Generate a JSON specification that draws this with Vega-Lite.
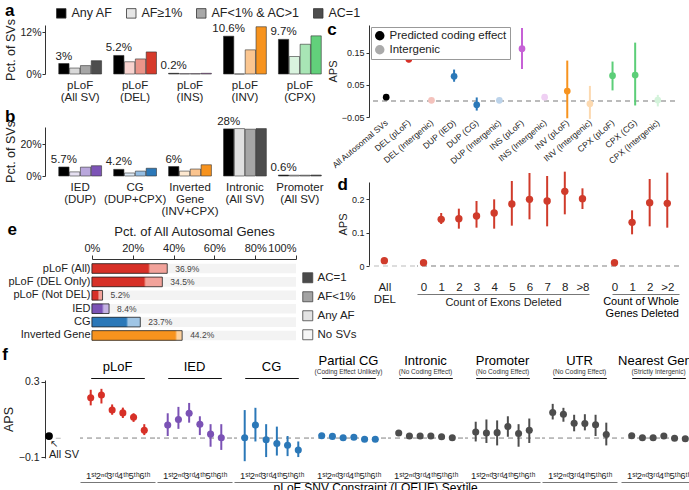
{
"$schema": "https://vega.github.io/schema/vega-lite/v6.json",
"background": "white",
"padding": {"left": 2, "top": 2, "right": 0, "bottom": 0},
"config": {
  "font": "Liberation Sans",
  "view": {"stroke": null},
  "axis": {"domainColor": "#333", "tickColor": "#333", "labelColor": "#222", "titleColor": "#222", "titleFontWeight": "normal", "grid": false, "tickSize": 3, "labelFontSize": 10.5, "titleFontSize": 12.5, "labelOverlap": false},
  "axisY": {"labelOverlap": false},
  "legend": {"labelColor": "#222"},
  "title": {"color": "#000"},
  "concat": {"spacing": 0}
},
"resolve": {"scale": {"color": "independent", "fill": "independent", "xOffset": "independent", "x": "independent", "y": "independent"}, "legend": {"color": "independent", "fill": "independent"}},
"concat": [
 {"hconcat": [
  {"concat": [
   {
    "width": 290, "height": 49,
    "title": {"text": "a", "anchor": "start", "frame": "bounds", "fontSize": 17, "fontWeight": "bold", "offset": -13},
    "data": {"values": [
     {"g": "pLoF|(All SV)", "t": "Any AF", "v": 3.0, "k": "all0", "lab": "3%"},
     {"g": "pLoF|(All SV)", "t": "AF≥1%", "v": 1.7, "k": "all1"},
     {"g": "pLoF|(All SV)", "t": "AF<1% & AC>1", "v": 2.4, "k": "all2"},
     {"g": "pLoF|(All SV)", "t": "AC=1", "v": 3.8, "k": "all3"},
     {"g": "pLoF|(DEL)", "t": "Any AF", "v": 5.3, "k": "del0", "lab": "5.2%"},
     {"g": "pLoF|(DEL)", "t": "AF≥1%", "v": 3.5, "k": "del1"},
     {"g": "pLoF|(DEL)", "t": "AF<1% & AC>1", "v": 4.3, "k": "del2"},
     {"g": "pLoF|(DEL)", "t": "AC=1", "v": 6.3, "k": "del3"},
     {"g": "pLoF|(INS)", "t": "Any AF", "v": 0.2, "k": "ins0", "lab": "0.2%"},
     {"g": "pLoF|(INS)", "t": "AF≥1%", "v": 0.1, "k": "ins1"},
     {"g": "pLoF|(INS)", "t": "AF<1% & AC>1", "v": 0.1, "k": "ins2"},
     {"g": "pLoF|(INS)", "t": "AC=1", "v": 0.2, "k": "ins3"},
     {"g": "pLoF|(INV)", "t": "Any AF", "v": 10.8, "k": "inv0", "lab": "10.6%"},
     {"g": "pLoF|(INV)", "t": "AF≥1%", "v": 0.0, "k": "inv1"},
     {"g": "pLoF|(INV)", "t": "AF<1% & AC>1", "v": 6.9, "k": "inv2"},
     {"g": "pLoF|(INV)", "t": "AC=1", "v": 13.5, "k": "inv3"},
     {"g": "pLoF|(CPX)", "t": "Any AF", "v": 9.9, "k": "cpx0", "lab": "9.7%"},
     {"g": "pLoF|(CPX)", "t": "AF≥1%", "v": 5.0, "k": "cpx1"},
     {"g": "pLoF|(CPX)", "t": "AF<1% & AC>1", "v": 8.5, "k": "cpx2"},
     {"g": "pLoF|(CPX)", "t": "AC=1", "v": 10.9, "k": "cpx3"}
    ]},
    "layer": [
     {"mark": {"type": "bar", "stroke": "#333", "strokeWidth": 0.6},
      "encoding": {
       "x": {"field": "g", "type": "nominal", "sort": null, "scale": {"paddingInner": 0.22, "paddingOuter": 0.25},
             "axis": {"title": null, "labelAngle": 0, "domain": false, "ticks": false, "labelExpr": "split(datum.label, '|')", "labelFontSize": 11.5, "labelLineHeight": 12, "labelPadding": 5}},
       "xOffset": {"field": "t", "type": "nominal", "scale": {"domain": ["Any AF", "AF≥1%", "AF<1% & AC>1", "AC=1"], "paddingInner": 0.05}},
       "y": {"field": "v", "type": "quantitative", "scale": {"domain": [0, 14], "nice": false},
             "axis": {"values": [0, 4, 8, 12], "labelOverlap": false, "labelExpr": "datum.value + '%'", "title": "Pct. of SVs", "titlePadding": 2, "labelPadding": 1}},
       "fill": {"field": "k", "type": "nominal", "legend": null, "scale": {
         "domain": ["all0","all1","all2","all3","del0","del1","del2","del3","ins0","ins1","ins2","ins3","inv0","inv1","inv2","inv3","cpx0","cpx1","cpx2","cpx3"],
         "range": ["#000000","#d9d9d9","#a6a6a6","#4d4d4d","#000000","#f8d3cf","#ea9489","#d63a2b","#000000","#f0d4f4","#d99ee3","#bf5fcf","#000000","#fde3c8","#fbc690","#f7931e","#000000","#d9f3de","#a8e5b5","#62d07b"]}}
      }},
     {"transform": [{"filter": "datum.t == 'Any AF'"}],
      "mark": {"type": "text", "baseline": "bottom", "dy": -2, "fontSize": 11.5, "color": "#222"},
      "encoding": {
       "x": {"field": "g", "type": "nominal", "sort": null},
       "xOffset": {"field": "t", "type": "nominal"},
       "y": {"field": "v", "type": "quantitative"},
       "text": {"field": "lab"}
      }},
     {"mark": {"type": "square", "opacity": 0},
      "encoding": {
       "x": {"field": "g", "type": "nominal", "sort": null},
       "y": {"field": "v", "type": "quantitative"},
       "color": {"field": "t", "type": "nominal", "scale": {"domain": ["Any AF", "AF≥1%", "AF<1% & AC>1", "AC=1"], "range": ["#000000", "#e6e6e6", "#a8a8a8", "#4d4d4d"]},
         "legend": {"orient": "none", "legendX": 10, "legendY": -18, "direction": "horizontal", "title": null, "symbolType": "square", "symbolSize": 90, "symbolOpacity": 1, "symbolStrokeColor": "#333", "symbolStrokeWidth": 0.8, "labelFontSize": 12.5, "columnPadding": 11, "padding": 0}}
      }}
    ]
   },
   {
    "width": 290, "height": 49,
    "title": {"text": "b", "anchor": "start", "frame": "bounds", "fontSize": 17, "fontWeight": "bold", "offset": -10},
    "data": {"values": [
     {"g": "IED|(DUP)", "t": "Any AF", "v": 5.7, "k": "ied0", "lab": "5.7%"},
     {"g": "IED|(DUP)", "t": "AF≥1%", "v": 2.6, "k": "ied1"},
     {"g": "IED|(DUP)", "t": "AF<1% & AC>1", "v": 5.6, "k": "ied2"},
     {"g": "IED|(DUP)", "t": "AC=1", "v": 6.5, "k": "ied3"},
     {"g": "CG|(DUP+CPX)", "t": "Any AF", "v": 4.2, "k": "cg0", "lab": "4.2%"},
     {"g": "CG|(DUP+CPX)", "t": "AF≥1%", "v": 1.9, "k": "cg1"},
     {"g": "CG|(DUP+CPX)", "t": "AF<1% & AC>1", "v": 3.1, "k": "cg2"},
     {"g": "CG|(DUP+CPX)", "t": "AC=1", "v": 4.9, "k": "cg3"},
     {"g": "Inverted|Gene|(INV+CPX)", "t": "Any AF", "v": 6.0, "k": "ig0", "lab": "6%"},
     {"g": "Inverted|Gene|(INV+CPX)", "t": "AF≥1%", "v": 3.1, "k": "ig1"},
     {"g": "Inverted|Gene|(INV+CPX)", "t": "AF<1% & AC>1", "v": 4.4, "k": "ig2"},
     {"g": "Inverted|Gene|(INV+CPX)", "t": "AC=1", "v": 7.1, "k": "ig3"},
     {"g": "Intronic|(All SV)", "t": "Any AF", "v": 29.8, "k": "int0", "lab": "28%"},
     {"g": "Intronic|(All SV)", "t": "AF≥1%", "v": 30.0, "k": "int1"},
     {"g": "Intronic|(All SV)", "t": "AF<1% & AC>1", "v": 29.6, "k": "int2"},
     {"g": "Intronic|(All SV)", "t": "AC=1", "v": 30.0, "k": "int3"},
     {"g": "Promoter|(All SV)", "t": "Any AF", "v": 0.6, "k": "pro0", "lab": "0.6%"},
     {"g": "Promoter|(All SV)", "t": "AF≥1%", "v": 0.5, "k": "pro1"},
     {"g": "Promoter|(All SV)", "t": "AF<1% & AC>1", "v": 0.5, "k": "pro2"},
     {"g": "Promoter|(All SV)", "t": "AC=1", "v": 0.6, "k": "pro3"}
    ]},
    "layer": [
     {"mark": {"type": "bar", "stroke": "#333", "strokeWidth": 0.6},
      "encoding": {
       "x": {"field": "g", "type": "nominal", "sort": null, "scale": {"paddingInner": 0.22, "paddingOuter": 0.25},
             "axis": {"title": null, "labelAngle": 0, "domain": false, "ticks": false, "labelExpr": "split(datum.label, '|')", "labelFontSize": 11.5, "labelLineHeight": 12, "labelPadding": 5}},
       "xOffset": {"field": "t", "type": "nominal", "scale": {"domain": ["Any AF", "AF≥1%", "AF<1% & AC>1", "AC=1"], "paddingInner": 0.05}},
       "y": {"field": "v", "type": "quantitative", "scale": {"domain": [0, 31], "nice": false},
             "axis": {"values": [0, 10, 20], "labelOverlap": false, "labelExpr": "datum.value + '%'", "title": "Pct. of SVs", "titlePadding": 2, "labelPadding": 1}},
       "fill": {"field": "k", "type": "nominal", "legend": null, "scale": {
         "domain": ["ied0","ied1","ied2","ied3","cg0","cg1","cg2","cg3","ig0","ig1","ig2","ig3","int0","int1","int2","int3","pro0","pro1","pro2","pro3"],
         "range": ["#000000","#e6e0f1","#b9a7dc","#7c53b6","#000000","#dce8f4","#94bde2","#2b78b8","#000000","#fde8d0","#fbc48e","#f7931e","#000000","#e0e0e0","#a6a6a6","#4d4d4d","#000000","#e0e0e0","#a6a6a6","#4d4d4d"]}}
      }},
     {"transform": [{"filter": "datum.t == 'Any AF'"}],
      "mark": {"type": "text", "baseline": "bottom", "dy": -2, "fontSize": 11.5, "color": "#222"},
      "encoding": {
       "x": {"field": "g", "type": "nominal", "sort": null},
       "xOffset": {"field": "t", "type": "nominal"},
       "y": {"field": "v", "type": "quantitative"},
       "text": {"field": "lab"}
      }}
    ]
   },
   {
    "width": 251, "height": 86,
    "title": {"text": "e", "anchor": "start", "frame": "bounds", "fontSize": 17, "fontWeight": "bold", "offset": -14},
    "data": {"values": [
     {"row": "pLoF (All)", "t": "Any AF", "v": 36.9, "k": "pa0", "lab": "36.9%"},
     {"row": "pLoF (All)", "t": "AF<1%", "v": 28.3, "k": "pa1"},
     {"row": "pLoF (All)", "t": "AC=1", "v": 27.8, "k": "pa2"},
     {"row": "pLoF (DEL Only)", "t": "Any AF", "v": 34.5, "k": "pd0", "lab": "34.5%"},
     {"row": "pLoF (DEL Only)", "t": "AF<1%", "v": 26.2, "k": "pd1"},
     {"row": "pLoF (DEL Only)", "t": "AC=1", "v": 25.7, "k": "pd2"},
     {"row": "pLoF (Not DEL)", "t": "Any AF", "v": 5.2, "k": "pn0", "lab": "5.2%"},
     {"row": "pLoF (Not DEL)", "t": "AF<1%", "v": 3.4, "k": "pn1"},
     {"row": "pLoF (Not DEL)", "t": "AC=1", "v": 3.0, "k": "pn2"},
     {"row": "IED", "t": "Any AF", "v": 8.4, "k": "ie0", "lab": "8.4%"},
     {"row": "IED", "t": "AF<1%", "v": 5.6, "k": "ie1"},
     {"row": "IED", "t": "AC=1", "v": 5.1, "k": "ie2"},
     {"row": "CG", "t": "Any AF", "v": 23.7, "k": "cg0", "lab": "23.7%"},
     {"row": "CG", "t": "AF<1%", "v": 17.5, "k": "cg1"},
     {"row": "CG", "t": "AC=1", "v": 17.0, "k": "cg2"},
     {"row": "Inverted Gene", "t": "Any AF", "v": 44.2, "k": "ig0", "lab": "44.2%"},
     {"row": "Inverted Gene", "t": "AF<1%", "v": 41.5, "k": "ig1"},
     {"row": "Inverted Gene", "t": "AC=1", "v": 41.0, "k": "ig2"}
    ]},
    "layer": [
     {"transform": [{"filter": "datum.t == 'Any AF'"}],
      "mark": {"type": "bar", "color": "#f3f3f3"},
      "encoding": {
       "y": {"field": "row", "type": "nominal", "sort": null, "scale": {"paddingInner": 0.28, "paddingOuter": 0.35},
             "axis": {"title": null, "domain": false, "ticks": false, "labelFontSize": 11, "labelPadding": -45, "labelAlign": "right"}},
       "x": {"datum": 100, "type": "quantitative", "scale": {"domain": [-23, 100], "nice": false, "zero": false},
             "axis": {"orient": "top", "values": [0, 20, 40, 60, 80, 100], "labelExpr": "datum.value + '%'", "title": "Pct. of All Autosomal Genes", "titleX": 149, "titleFontSize": 13, "labelFontSize": 11, "tickSize": 4, "titlePadding": 4, "domainDash": [0, 47, 400]}},
       "x2": {"datum": 0}
      }},
     {"mark": {"type": "bar"},
      "encoding": {
       "y": {"field": "row", "type": "nominal", "sort": null},
       "x": {"field": "v", "type": "quantitative", "stack": null},
       "x2": {"datum": 0},
       "fill": {"field": "k", "type": "nominal", "legend": null, "scale": {
         "domain": ["pa0","pa1","pa2","pd0","pd1","pd2","pn0","pn1","pn2","ie0","ie1","ie2","cg0","cg1","cg2","ig0","ig1","ig2"],
         "range": ["#f2a39b","#e57366","#d73027","#f2a39b","#e57366","#d73027","#f2a39b","#e57366","#d73027","#c5b3e3","#9f84cf","#7b52b5","#9fc5e5","#5f9dd0","#2b78b8","#fcd19f","#f9b05c","#f7931e"]}}
      }},
     {"transform": [{"filter": "datum.t == 'Any AF'"}],
      "mark": {"type": "bar", "fillOpacity": 0, "stroke": "#222", "strokeWidth": 0.8},
      "encoding": {
       "y": {"field": "row", "type": "nominal", "sort": null},
       "x": {"field": "v", "type": "quantitative", "stack": null},
       "x2": {"datum": 0}
      }},
     {"transform": [{"filter": "datum.t == 'Any AF'"}],
      "mark": {"type": "text", "align": "left", "dx": 8, "fontSize": 8.5, "color": "#444"},
      "encoding": {
       "y": {"field": "row", "type": "nominal", "sort": null},
       "x": {"field": "v", "type": "quantitative", "stack": null},
       "text": {"field": "lab"}
      }},
     {"transform": [{"filter": "datum.t == 'Any AF'"}],
      "mark": {"type": "square", "opacity": 0},
      "encoding": {
       "y": {"field": "row", "type": "nominal", "sort": null},
       "x": {"field": "v", "type": "quantitative", "stack": null},
       "color": {"field": "t", "type": "nominal", "scale": {"domain": ["AC=1", "AF<1%", "Any AF", "No SVs"], "range": ["#4a4a4a", "#a3a3a3", "#e3e3e3", "#f5f5f5"]},
         "legend": {"orient": "none", "legendX": 257, "legendY": 13, "title": null, "symbolType": "square", "symbolSize": 100, "symbolOpacity": 1, "symbolStrokeColor": "#444", "symbolStrokeWidth": 0.8, "labelFontSize": 11.5, "rowPadding": 5, "padding": 0}}
      }}
    ]
   }
  ], "columns": 1, "align": "none", "spacing": 4,
  "resolve": {"scale": {"color": "independent", "fill": "independent", "xOffset": "independent", "x": "independent", "y": "independent"}, "legend": {"color": "independent", "fill": "independent"}}},
  {"concat": [
   {
    "width": 306, "height": 92,
    "title": {"text": "c", "anchor": "start", "frame": "bounds", "fontSize": 17, "fontWeight": "bold", "offset": -14},
    "data": {"values": [
     {"cat": "All Autosomal SVs", "v": 0.012, "lo": 0.012, "hi": 0.012, "eff": "Predicted coding effect"},
     {"cat": "DEL (pLoF)", "v": 0.13, "lo": 0.121, "hi": 0.142, "eff": "Predicted coding effect"},
     {"cat": "DEL (Intergenic)", "v": 0.002, "lo": 0.0, "hi": 0.004, "eff": "Intergenic"},
     {"cat": "DUP (IED)", "v": 0.077, "lo": 0.06, "hi": 0.098, "eff": "Predicted coding effect"},
     {"cat": "DUP (CG)", "v": -0.012, "lo": -0.03, "hi": 0.011, "eff": "Predicted coding effect"},
     {"cat": "DUP (Intergenic)", "v": 0.002, "lo": 0.0, "hi": 0.004, "eff": "Intergenic"},
     {"cat": "INS (pLoF)", "v": 0.163, "lo": 0.1, "hi": 0.228, "eff": "Predicted coding effect"},
     {"cat": "INS (Intergenic)", "v": 0.012, "lo": 0.009, "hi": 0.015, "eff": "Intergenic"},
     {"cat": "INV (pLoF)", "v": 0.031, "lo": -0.054, "hi": 0.126, "eff": "Predicted coding effect"},
     {"cat": "INV (Intergenic)", "v": -0.009, "lo": -0.056, "hi": 0.047, "eff": "Intergenic"},
     {"cat": "CPX (pLoF)", "v": 0.079, "lo": 0.033, "hi": 0.123, "eff": "Predicted coding effect"},
     {"cat": "CPX (CG)", "v": 0.081, "lo": -0.014, "hi": 0.182, "eff": "Predicted coding effect"},
     {"cat": "CPX (Intergenic)", "v": 0.003, "lo": -0.017, "hi": 0.019, "eff": "Intergenic"}
    ]},
    "layer": [
     {"mark": {"type": "rule", "strokeDash": [5, 4], "color": "#bbbbbb", "strokeWidth": 1}, "encoding": {"y": {"datum": 0, "type": "quantitative"}}},
     {"mark": {"type": "rule", "strokeWidth": 2},
      "encoding": {
       "x": {"field": "cat", "type": "nominal", "sort": null, "scale": {"type": "point", "padding": 0.76},
             "axis": {"title": null, "labelAngle": -40, "labelAlign": "right", "labelBaseline": "middle", "labelPadding": 4, "labelFontSize": 8.5, "ticks": false, "domain": false, "labelOverlap": false}},
       "y": {"field": "lo", "type": "quantitative", "scale": {"domain": [-0.05, 0.237], "nice": false},
             "axis": {"values": [-0.05, 0, 0.05, 0.1, 0.15, 0.2], "labelOverlap": false, "labelExpr": "datum.value == 0 ? '0' : format(datum.value, '.2~f')", "title": "APS", "titleFontSize": 11, "labelFontSize": 9, "titlePadding": 3}},
       "y2": {"field": "hi"},
       "color": {"field": "cat", "type": "nominal", "legend": null, "scale": {
         "domain": ["All Autosomal SVs","DEL (pLoF)","DEL (Intergenic)","DUP (IED)","DUP (CG)","DUP (Intergenic)","INS (pLoF)","INS (Intergenic)","INV (pLoF)","INV (Intergenic)","CPX (pLoF)","CPX (CG)","CPX (Intergenic)"],
         "range": ["#000000","#d73027","#f4c2bc","#2b78b8","#2b78b8","#bcd3ea","#c661d6","#efd0f3","#f7931e","#fcd9b0","#5cce78","#5cce78","#d4f3db"]}}
      }},
     {"mark": {"type": "circle", "size": 45, "opacity": 1},
      "encoding": {
       "x": {"field": "cat", "type": "nominal", "sort": null},
       "y": {"field": "v", "type": "quantitative"},
       "color": {"field": "cat", "type": "nominal", "legend": null}
      }},
     {"mark": {"type": "circle", "opacity": 0},
      "encoding": {
       "x": {"field": "cat", "type": "nominal", "sort": null},
       "y": {"field": "v", "type": "quantitative"},
       "fill": {"field": "eff", "type": "nominal", "scale": {"domain": ["Predicted coding effect", "Intergenic"], "range": ["#000000", "#aaaaaa"]},
         "legend": {"orient": "top-left", "title": null, "symbolType": "circle", "symbolSize": 90, "symbolOpacity": 1, "symbolStrokeWidth": 0, "labelFontSize": 11.5, "strokeColor": "#999999", "padding": 3, "offset": 2, "rowPadding": 1, "fillColor": "white"}}
      }}
    ]
   },
   {"hconcat": [
    {
     "width": 46, "height": 84,
     "title": {"text": "d", "anchor": "start", "frame": "bounds", "fontSize": 17, "fontWeight": "bold", "offset": -12},
     "data": {"values": [{"x": "All|DEL", "v": 0.016}]},
     "layer": [
      {"mark": {"type": "rule", "strokeDash": [5, 4], "color": "#bbbbbb", "strokeWidth": 1}, "encoding": {"y": {"datum": 0, "type": "quantitative"}}},
      {"mark": {"type": "circle", "size": 55, "color": "#d03b2b", "opacity": 1},
       "encoding": {
        "x": {"field": "x", "type": "nominal", "scale": {"type": "point", "domain": ["All|DEL", "_"], "padding": 1},
              "axis": {"title": null, "offset": 28, "labelBaseline": "top", "labelPadding": -13, "ticks": false, "domain": false, "labelAngle": 0, "labelFontSize": 11.5, "labelLineHeight": 12, "labelExpr": "datum.label == '_' ? '' : split(datum.label, '|')"}},
        "y": {"field": "v", "type": "quantitative", "scale": {"domain": [0, 0.252], "nice": false},
              "axis": {"values": [0, 0.05, 0.1, 0.15, 0.2, 0.25], "labelOverlap": false, "labelExpr": "datum.value == 0 ? '0' : format(datum.value, '.2~f')", "title": "APS", "titleFontSize": 11, "labelFontSize": 9, "titlePadding": 3}}
       }}
     ]
    },
    {
     "width": 172, "height": 84,
     "data": {"values": [
      {"x": "0", "v": 0.01, "lo": 0.01, "hi": 0.01},
      {"x": "1", "v": 0.14, "lo": 0.126, "hi": 0.159},
      {"x": "2", "v": 0.142, "lo": 0.112, "hi": 0.172},
      {"x": "3", "v": 0.15, "lo": 0.115, "hi": 0.195},
      {"x": "4", "v": 0.159, "lo": 0.112, "hi": 0.2},
      {"x": "5", "v": 0.186, "lo": 0.121, "hi": 0.255},
      {"x": "6", "v": 0.2, "lo": 0.14, "hi": 0.279},
      {"x": "7", "v": 0.195, "lo": 0.119, "hi": 0.27},
      {"x": "8", "v": 0.224, "lo": 0.155, "hi": 0.283},
      {"x": ">8", "v": 0.202, "lo": 0.171, "hi": 0.233}
     ]},
     "layer": [
      {"mark": {"type": "rule", "strokeDash": [5, 4], "color": "#bbbbbb", "strokeWidth": 1}, "encoding": {"y": {"datum": 0, "type": "quantitative", "axis": null}}},
      {"mark": {"type": "rule", "strokeWidth": 2, "color": "#d03b2b"},
       "encoding": {
        "x": {"field": "x", "type": "nominal", "sort": null, "scale": {"type": "point", "padding": 0.37},
              "axis": {"title": "Count of Exons Deleted", "titleFontSize": 11, "titlePadding": 2, "offset": 28, "labelBaseline": "top", "labelPadding": -13, "ticks": false, "domain": true, "domainColor": "#777777", "labelAngle": 0, "labelFontSize": 11.5}},
        "y": {"field": "lo", "type": "quantitative", "scale": {"domain": [0, 0.252], "nice": false}, "axis": null},
        "y2": {"field": "hi"}
       }},
      {"mark": {"type": "circle", "size": 55, "color": "#d03b2b", "opacity": 1},
       "encoding": {
        "x": {"field": "x", "type": "nominal", "sort": null},
        "y": {"field": "v", "type": "quantitative", "axis": null}
       }}
     ]
    },
    {
     "width": 88, "height": 84,
     "title": {"text": ["Count of Whole", "Genes Deleted"], "orient": "bottom", "anchor": "end", "frame": "group", "fontSize": 11, "fontWeight": "normal", "offset": 2, "lineHeight": 12},
     "data": {"values": [
      {"x": "0", "v": 0.01, "lo": 0.01, "hi": 0.01},
      {"x": "1", "v": 0.131, "lo": 0.095, "hi": 0.167},
      {"x": "2", "v": 0.19, "lo": 0.119, "hi": 0.261},
      {"x": ">2", "v": 0.188, "lo": 0.115, "hi": 0.28}
     ]},
     "layer": [
      {"mark": {"type": "rule", "strokeDash": [5, 4], "color": "#bbbbbb", "strokeWidth": 1}, "encoding": {"y": {"datum": 0, "type": "quantitative", "axis": null}}},
      {"mark": {"type": "rule", "strokeWidth": 2, "color": "#d03b2b"},
       "encoding": {
        "x": {"field": "x", "type": "nominal", "sort": null, "scale": {"type": "point", "padding": 1.15, "align": 0.667},
              "axis": {"title": null, "offset": 28, "labelBaseline": "top", "labelPadding": -13, "ticks": false, "domain": true, "domainColor": "#777777", "domainDash": [0, 21, 300], "labelAngle": 0, "labelFontSize": 11.5}},
        "y": {"field": "lo", "type": "quantitative", "scale": {"domain": [0, 0.252], "nice": false}, "axis": null},
        "y2": {"field": "hi"}
       }},
      {"mark": {"type": "circle", "size": 55, "color": "#d03b2b", "opacity": 1},
       "encoding": {
        "x": {"field": "x", "type": "nominal", "sort": null},
        "y": {"field": "v", "type": "quantitative", "axis": null}
       }}
     ]
    }
   ], "spacing": 0,
   "resolve": {"scale": {"color": "independent", "fill": "independent", "x": "independent", "y": "independent"}, "legend": {"color": "independent", "fill": "independent"}}}
  ], "columns": 1, "align": "none", "spacing": 0,
  "resolve": {"scale": {"color": "independent", "fill": "independent", "x": "independent", "y": "independent"}, "legend": {"color": "independent", "fill": "independent"}}}
 ], "spacing": -34,
 "resolve": {"scale": {"color": "independent", "fill": "independent", "xOffset": "independent", "x": "independent", "y": "independent"}, "legend": {"color": "independent", "fill": "independent"}}},
 {"hconcat": [
  {
   "width": 15.75, "height": 78,
   "title": {"text": "f", "anchor": "start", "frame": "bounds", "fontSize": 17, "fontWeight": "bold", "offset": 13},
   "data": {"values": [{"x": "All SV", "v": 0.012, "lab": "All SV", "arrow": "↖"}]},
   "layer": [
    {"mark": {"type": "rule", "strokeDash": [5, 4], "color": "#bbbbbb", "strokeWidth": 1}, "encoding": {"y": {"datum": 0, "type": "quantitative"}}},
    {"mark": {"type": "circle", "size": 60, "color": "#000000", "opacity": 1},
     "encoding": {
      "x": {"field": "x", "type": "nominal", "scale": {"type": "point", "domain": ["All SV", "_"], "padding": 0.52}, "axis": null},
      "y": {"field": "v", "type": "quantitative", "scale": {"domain": [-0.105, 0.31], "nice": false},
            "axis": {"values": [-0.1, 0, 0.1, 0.2, 0.3], "labelOverlap": false, "labelExpr": "datum.value == 0 ? '0' : format(datum.value, '.1~f')", "title": "APS", "titleFontSize": 12.5, "labelFontSize": 10.5, "tickSize": 4, "titlePadding": 3}}
     }},
    {"mark": {"type": "text", "align": "left", "baseline": "top", "dx": 0, "dy": 13, "fontSize": 11, "color": "#222"},
     "encoding": {"x": {"field": "x", "type": "nominal", "axis": null}, "y": {"field": "v", "type": "quantitative"}, "text": {"field": "lab"}}},
    {"mark": {"type": "text", "align": "left", "baseline": "top", "dx": 1, "dy": 3, "fontSize": 10, "color": "#222"},
     "encoding": {"x": {"field": "x", "type": "nominal", "axis": null}, "y": {"field": "v", "type": "quantitative"}, "text": {"field": "arrow"}}}
   ]
  },
  {
   "width": 75, "height": 78,
   "title": {"text": "pLoF", "fontSize": 13, "fontWeight": "normal", "offset": 4, "frame": "group"},
   "data": {"values": [
    {"s": "1ˢᵗ", "v": 0.215, "lo": 0.175, "hi": 0.258},
    {"s": "2ⁿᵈ", "v": 0.23, "lo": 0.185, "hi": 0.263},
    {"s": "3ʳᵈ", "v": 0.15, "lo": 0.125, "hi": 0.18},
    {"s": "4ᵗʰ", "v": 0.135, "lo": 0.108, "hi": 0.163},
    {"s": "5ᵗʰ", "v": 0.112, "lo": 0.087, "hi": 0.133},
    {"s": "6ᵗʰ", "v": 0.042, "lo": 0.017, "hi": 0.075}
   ]},
   "resolve": {"axis": {"x": "independent"}},
   "layer": [
    {"mark": {"type": "rule", "strokeDash": [5, 4], "color": "#bbbbbb", "strokeWidth": 1}, "encoding": {"y": {"datum": 0, "type": "quantitative", "axis": null}}},
    {"mark": {"type": "rule", "strokeWidth": 2, "color": "#d73027"},
     "encoding": {
      "x": {"field": "s", "type": "nominal", "sort": null, "scale": {"type": "point", "padding": 1},
            "axis": {"orient": "bottom", "title": null, "offset": 24, "labelBaseline": "top", "labelPadding": -12, "ticks": false, "domain": true, "domainColor": "#777777", "labelFontSize": 9.5, "labelAngle": 0}},
      "y": {"field": "lo", "type": "quantitative", "scale": {"domain": [-0.105, 0.31], "nice": false}, "axis": null},
      "y2": {"field": "hi"}
     }},
    {"mark": {"type": "circle", "size": 50, "color": "#d73027", "opacity": 1},
     "encoding": {
      "x": {"field": "s", "type": "nominal", "sort": null,
            "axis": {"orient": "top", "title": null, "labels": false, "ticks": false, "domain": true, "domainColor": "#111111", "domainWidth": 1.2, "domainDash": [0, 10.7, 53.6, 300], "offset": 2}},
      "y": {"field": "v", "type": "quantitative", "axis": null}
     }}
   ]
  },
  {
   "width": 75, "height": 78,
   "title": {"text": "IED", "fontSize": 13, "fontWeight": "normal", "offset": 4, "frame": "group"},
   "data": {"values": [
    {"s": "1ˢᵗ", "v": 0.07, "lo": 0.012, "hi": 0.133},
    {"s": "2ⁿᵈ", "v": 0.1, "lo": 0.05, "hi": 0.167},
    {"s": "3ʳᵈ", "v": 0.133, "lo": 0.083, "hi": 0.188},
    {"s": "4ᵗʰ", "v": 0.075, "lo": 0.017, "hi": 0.117},
    {"s": "5ᵗʰ", "v": 0.022, "lo": -0.045, "hi": 0.075},
    {"s": "6ᵗʰ", "v": 0.003, "lo": -0.062, "hi": 0.075}
   ]},
   "resolve": {"axis": {"x": "independent"}},
   "layer": [
    {"mark": {"type": "rule", "strokeDash": [5, 4], "color": "#bbbbbb", "strokeWidth": 1}, "encoding": {"y": {"datum": 0, "type": "quantitative", "axis": null}}},
    {"mark": {"type": "rule", "strokeWidth": 2, "color": "#7b52b5"},
     "encoding": {
      "x": {"field": "s", "type": "nominal", "sort": null, "scale": {"type": "point", "padding": 1},
            "axis": {"orient": "bottom", "title": null, "offset": 24, "labelBaseline": "top", "labelPadding": -12, "ticks": false, "domain": true, "domainColor": "#777777", "labelFontSize": 9.5, "labelAngle": 0}},
      "y": {"field": "lo", "type": "quantitative", "scale": {"domain": [-0.105, 0.31], "nice": false}, "axis": null},
      "y2": {"field": "hi"}
     }},
    {"mark": {"type": "circle", "size": 50, "color": "#7b52b5", "opacity": 1},
     "encoding": {
      "x": {"field": "s", "type": "nominal", "sort": null,
            "axis": {"orient": "top", "title": null, "labels": false, "ticks": false, "domain": true, "domainColor": "#111111", "domainWidth": 1.2, "domainDash": [0, 10.7, 53.6, 300], "offset": 2}},
      "y": {"field": "v", "type": "quantitative", "axis": null}
     }}
   ]
  },
  {
   "width": 75, "height": 78,
   "title": {"text": "CG", "fontSize": 13, "fontWeight": "normal", "offset": 4, "frame": "group"},
   "data": {"values": [
    {"s": "1ˢᵗ", "v": 0.003, "lo": -0.122, "hi": 0.15},
    {"s": "2ⁿᵈ", "v": 0.07, "lo": -0.017, "hi": 0.162},
    {"s": "3ʳᵈ", "v": -0.008, "lo": -0.1, "hi": 0.075},
    {"s": "4ᵗʰ", "v": -0.028, "lo": -0.092, "hi": 0.062},
    {"s": "5ᵗʰ", "v": -0.037, "lo": -0.095, "hi": 0.012},
    {"s": "6ᵗʰ", "v": -0.063, "lo": -0.1, "hi": -0.017}
   ]},
   "resolve": {"axis": {"x": "independent"}},
   "layer": [
    {"mark": {"type": "rule", "strokeDash": [5, 4], "color": "#bbbbbb", "strokeWidth": 1}, "encoding": {"y": {"datum": 0, "type": "quantitative", "axis": null}}},
    {"mark": {"type": "rule", "strokeWidth": 2, "color": "#2b78b8"},
     "encoding": {
      "x": {"field": "s", "type": "nominal", "sort": null, "scale": {"type": "point", "padding": 1},
            "axis": {"orient": "bottom", "title": null, "offset": 24, "labelBaseline": "top", "labelPadding": -12, "ticks": false, "domain": true, "domainColor": "#777777", "labelFontSize": 9.5, "labelAngle": 0}},
      "y": {"field": "lo", "type": "quantitative", "scale": {"domain": [-0.105, 0.31], "nice": false}, "axis": null},
      "y2": {"field": "hi"}
     }},
    {"mark": {"type": "circle", "size": 50, "color": "#2b78b8", "opacity": 1},
     "encoding": {
      "x": {"field": "s", "type": "nominal", "sort": null,
            "axis": {"orient": "top", "title": null, "labels": false, "ticks": false, "domain": true, "domainColor": "#111111", "domainWidth": 1.2, "domainDash": [0, 10.7, 53.6, 300], "offset": 2}},
      "y": {"field": "v", "type": "quantitative", "axis": null}
     }}
   ]
  },
  {
   "width": 75, "height": 78,
   "title": {"text": "Partial CG", "subtitle": "(Coding Effect Unlikely)", "fontSize": 13, "fontWeight": "normal", "offset": 3, "frame": "group", "subtitleFontSize": 6.5, "subtitleColor": "#333333", "subtitlePadding": 1},
   "data": {"values": [
    {"s": "1ˢᵗ", "v": 0.013, "lo": 0.004, "hi": 0.022},
    {"s": "2ⁿᵈ", "v": 0.01, "lo": 0.002, "hi": 0.018},
    {"s": "3ʳᵈ", "v": 0.003, "lo": -0.006, "hi": 0.012},
    {"s": "4ᵗʰ", "v": 0.005, "lo": -0.004, "hi": 0.014},
    {"s": "5ᵗʰ", "v": -0.005, "lo": -0.016, "hi": 0.006},
    {"s": "6ᵗʰ", "v": -0.005, "lo": -0.02, "hi": 0.01}
   ]},
   "resolve": {"axis": {"x": "independent"}},
   "layer": [
    {"mark": {"type": "rule", "strokeDash": [5, 4], "color": "#bbbbbb", "strokeWidth": 1}, "encoding": {"y": {"datum": 0, "type": "quantitative", "axis": null}}},
    {"mark": {"type": "rule", "strokeWidth": 2, "color": "#2b78b8"},
     "encoding": {
      "x": {"field": "s", "type": "nominal", "sort": null, "scale": {"type": "point", "padding": 1},
            "axis": {"orient": "bottom", "title": null, "offset": 24, "labelBaseline": "top", "labelPadding": -12, "ticks": false, "domain": true, "domainColor": "#777777", "labelFontSize": 9.5, "labelAngle": 0}},
      "y": {"field": "lo", "type": "quantitative", "scale": {"domain": [-0.105, 0.31], "nice": false}, "axis": null},
      "y2": {"field": "hi"}
     }},
    {"mark": {"type": "circle", "size": 50, "color": "#2b78b8", "opacity": 1},
     "encoding": {
      "x": {"field": "s", "type": "nominal", "sort": null,
            "axis": {"orient": "top", "title": null, "labels": false, "ticks": false, "domain": true, "domainColor": "#111111", "domainWidth": 1.2, "domainDash": [0, 10.7, 53.6, 300], "offset": 2}},
      "y": {"field": "v", "type": "quantitative", "axis": null}
     }}
   ]
  },
  {
   "width": 75, "height": 78,
   "title": {"text": "Intronic", "subtitle": "(No Coding Effect)", "fontSize": 13, "fontWeight": "normal", "offset": 3, "frame": "group", "subtitleFontSize": 6.5, "subtitleColor": "#333333", "subtitlePadding": 1},
   "data": {"values": [
    {"s": "1ˢᵗ", "v": 0.028, "lo": 0.02, "hi": 0.036},
    {"s": "2ⁿᵈ", "v": 0.012, "lo": 0.006, "hi": 0.018},
    {"s": "3ʳᵈ", "v": 0.012, "lo": 0.006, "hi": 0.018},
    {"s": "4ᵗʰ", "v": 0.012, "lo": 0.006, "hi": 0.018},
    {"s": "5ᵗʰ", "v": 0.008, "lo": 0.002, "hi": 0.014},
    {"s": "6ᵗʰ", "v": 0.003, "lo": -0.003, "hi": 0.009}
   ]},
   "resolve": {"axis": {"x": "independent"}},
   "layer": [
    {"mark": {"type": "rule", "strokeDash": [5, 4], "color": "#bbbbbb", "strokeWidth": 1}, "encoding": {"y": {"datum": 0, "type": "quantitative", "axis": null}}},
    {"mark": {"type": "rule", "strokeWidth": 2, "color": "#4d4d4d"},
     "encoding": {
      "x": {"field": "s", "type": "nominal", "sort": null, "scale": {"type": "point", "padding": 1},
            "axis": {"orient": "bottom", "title": null, "offset": 24, "labelBaseline": "top", "labelPadding": -12, "ticks": false, "domain": true, "domainColor": "#777777", "labelFontSize": 9.5, "labelAngle": 0}},
      "y": {"field": "lo", "type": "quantitative", "scale": {"domain": [-0.105, 0.31], "nice": false}, "axis": null},
      "y2": {"field": "hi"}
     }},
    {"mark": {"type": "circle", "size": 50, "color": "#4d4d4d", "opacity": 1},
     "encoding": {
      "x": {"field": "s", "type": "nominal", "sort": null,
            "axis": {"orient": "top", "title": null, "labels": false, "ticks": false, "domain": true, "domainColor": "#111111", "domainWidth": 1.2, "domainDash": [0, 10.7, 53.6, 300], "offset": 2}},
      "y": {"field": "v", "type": "quantitative", "axis": null}
     }}
   ]
  },
  {
   "width": 75, "height": 78,
   "title": {"text": "Promoter", "subtitle": "(No Coding Effect)", "fontSize": 13, "fontWeight": "normal", "offset": 3, "frame": "group", "subtitleFontSize": 6.5, "subtitleColor": "#333333", "subtitlePadding": 1},
   "data": {"values": [
    {"s": "1ˢᵗ", "v": 0.033, "lo": -0.017, "hi": 0.088},
    {"s": "2ⁿᵈ", "v": 0.028, "lo": -0.025, "hi": 0.1},
    {"s": "3ʳᵈ", "v": 0.03, "lo": -0.038, "hi": 0.095},
    {"s": "4ᵗʰ", "v": 0.062, "lo": 0.008, "hi": 0.117},
    {"s": "5ᵗʰ", "v": 0.025, "lo": -0.045, "hi": 0.075},
    {"s": "6ᵗʰ", "v": 0.042, "lo": -0.025, "hi": 0.105}
   ]},
   "resolve": {"axis": {"x": "independent"}},
   "layer": [
    {"mark": {"type": "rule", "strokeDash": [5, 4], "color": "#bbbbbb", "strokeWidth": 1}, "encoding": {"y": {"datum": 0, "type": "quantitative", "axis": null}}},
    {"mark": {"type": "rule", "strokeWidth": 2, "color": "#4d4d4d"},
     "encoding": {
      "x": {"field": "s", "type": "nominal", "sort": null, "scale": {"type": "point", "padding": 1},
            "axis": {"orient": "bottom", "title": null, "offset": 24, "labelBaseline": "top", "labelPadding": -12, "ticks": false, "domain": true, "domainColor": "#777777", "labelFontSize": 9.5, "labelAngle": 0}},
      "y": {"field": "lo", "type": "quantitative", "scale": {"domain": [-0.105, 0.31], "nice": false}, "axis": null},
      "y2": {"field": "hi"}
     }},
    {"mark": {"type": "circle", "size": 50, "color": "#4d4d4d", "opacity": 1},
     "encoding": {
      "x": {"field": "s", "type": "nominal", "sort": null,
            "axis": {"orient": "top", "title": null, "labels": false, "ticks": false, "domain": true, "domainColor": "#111111", "domainWidth": 1.2, "domainDash": [0, 10.7, 53.6, 300], "offset": 2}},
      "y": {"field": "v", "type": "quantitative", "axis": null}
     }}
   ]
  },
  {
   "width": 75, "height": 78,
   "title": {"text": "UTR", "subtitle": "(No Coding Effect)", "fontSize": 13, "fontWeight": "normal", "offset": 3, "frame": "group", "subtitleFontSize": 6.5, "subtitleColor": "#333333", "subtitlePadding": 1},
   "data": {"values": [
    {"s": "1ˢᵗ", "v": 0.137, "lo": 0.1, "hi": 0.183},
    {"s": "2ⁿᵈ", "v": 0.128, "lo": 0.088, "hi": 0.162},
    {"s": "3ʳᵈ", "v": 0.08, "lo": 0.037, "hi": 0.125},
    {"s": "4ᵗʰ", "v": 0.078, "lo": 0.042, "hi": 0.128},
    {"s": "5ᵗʰ", "v": 0.072, "lo": 0.012, "hi": 0.125},
    {"s": "6ᵗʰ", "v": 0.02, "lo": -0.038, "hi": 0.083}
   ]},
   "resolve": {"axis": {"x": "independent"}},
   "layer": [
    {"mark": {"type": "rule", "strokeDash": [5, 4], "color": "#bbbbbb", "strokeWidth": 1}, "encoding": {"y": {"datum": 0, "type": "quantitative", "axis": null}}},
    {"mark": {"type": "rule", "strokeWidth": 2, "color": "#4d4d4d"},
     "encoding": {
      "x": {"field": "s", "type": "nominal", "sort": null, "scale": {"type": "point", "padding": 1},
            "axis": {"orient": "bottom", "title": null, "offset": 24, "labelBaseline": "top", "labelPadding": -12, "ticks": false, "domain": true, "domainColor": "#777777", "labelFontSize": 9.5, "labelAngle": 0}},
      "y": {"field": "lo", "type": "quantitative", "scale": {"domain": [-0.105, 0.31], "nice": false}, "axis": null},
      "y2": {"field": "hi"}
     }},
    {"mark": {"type": "circle", "size": 50, "color": "#4d4d4d", "opacity": 1},
     "encoding": {
      "x": {"field": "s", "type": "nominal", "sort": null,
            "axis": {"orient": "top", "title": null, "labels": false, "ticks": false, "domain": true, "domainColor": "#111111", "domainWidth": 1.2, "domainDash": [0, 10.7, 53.6, 300], "offset": 2}},
      "y": {"field": "v", "type": "quantitative", "axis": null}
     }}
   ]
  },
  {
   "width": 75, "height": 78,
   "title": {"text": "Nearest Gene", "subtitle": "(Strictly Intergenic)", "fontSize": 13, "fontWeight": "normal", "offset": 3, "frame": "group", "subtitleFontSize": 6.5, "subtitleColor": "#333333", "subtitlePadding": 1},
   "data": {"values": [
    {"s": "1ˢᵗ", "v": 0.013, "lo": 0.005, "hi": 0.021},
    {"s": "2ⁿᵈ", "v": 0.003, "lo": -0.005, "hi": 0.011},
    {"s": "3ʳᵈ", "v": 0.003, "lo": -0.005, "hi": 0.011},
    {"s": "4ᵗʰ", "v": 0.012, "lo": 0.004, "hi": 0.02},
    {"s": "5ᵗʰ", "v": 0.0, "lo": -0.008, "hi": 0.008},
    {"s": "6ᵗʰ", "v": -0.003, "lo": -0.011, "hi": 0.005}
   ]},
   "resolve": {"axis": {"x": "independent"}},
   "layer": [
    {"mark": {"type": "rule", "strokeDash": [5, 4], "color": "#bbbbbb", "strokeWidth": 1}, "encoding": {"y": {"datum": 0, "type": "quantitative", "axis": null}}},
    {"mark": {"type": "rule", "strokeWidth": 2, "color": "#4d4d4d"},
     "encoding": {
      "x": {"field": "s", "type": "nominal", "sort": null, "scale": {"type": "point", "padding": 1},
            "axis": {"orient": "bottom", "title": null, "offset": 24, "labelBaseline": "top", "labelPadding": -12, "ticks": false, "domain": true, "domainColor": "#777777", "labelFontSize": 9.5, "labelAngle": 0}},
      "y": {"field": "lo", "type": "quantitative", "scale": {"domain": [-0.105, 0.31], "nice": false}, "axis": null},
      "y2": {"field": "hi"}
     }},
    {"mark": {"type": "circle", "size": 50, "color": "#4d4d4d", "opacity": 1},
     "encoding": {
      "x": {"field": "s", "type": "nominal", "sort": null,
            "axis": {"orient": "top", "title": null, "labels": false, "ticks": false, "domain": true, "domainColor": "#111111", "domainWidth": 1.2, "domainDash": [0, 10.7, 53.6, 300], "offset": 2}},
      "y": {"field": "v", "type": "quantitative", "axis": null}
     }}
   ]
  }
 ], "spacing": 0,
 "resolve": {"scale": {"x": "independent", "y": "independent"}},
 "title": {"text": "pLoF SNV Constraint (LOEUF) Sextile", "orient": "bottom", "anchor": "middle", "fontSize": 12, "fontWeight": "normal", "offset": 1, "dx": 25}}
], "columns": 1, "align": "none", "spacing": 0
}
